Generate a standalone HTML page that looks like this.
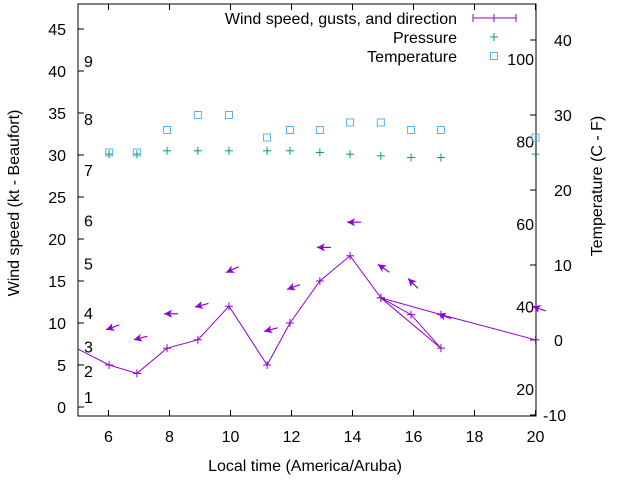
<!DOCTYPE html>
<html><head><meta charset="utf-8"><style>
body{margin:0;background:#fff}
svg{display:block;font-family:"Liberation Sans",sans-serif}
</style></head><body>
<svg id="c" width="640" height="480" viewBox="0 0 640 480"></svg>
<script>
const hours=[6.02,6.93,7.92,8.93,9.95,11.2,11.95,12.93,13.92,14.93,15.92,16.9,14.93,16.9,20.0];
const wind=[5,4,7,8,12,5,10,15,18,13,11,7,13,11,8];
const gustHours=[6.02,6.93,7.92,8.93,9.95,11.2,11.95,12.93,13.92,14.93,15.92,16.9,20.0];
const gusts=[9.2,8,11.1,11.9,16,9,14,19,22,17,15.3,11.1,12];
const dirs=[70,75,90,75,65,75,70,90,90,125,135,110,110];
const presHours=[6.02,6.93,7.92,8.93,9.95,11.2,11.95,12.93,13.92,14.93,15.92,16.9,20.0];
const pressure=[30.1,30.1,30.5,30.5,30.5,30.5,30.5,30.3,30.1,29.9,29.7,29.7,30.1];
const temps=[25,25,28,30,30,27,28,28,29,29,28,28,27];
const xTicks=[6,8,10,12,14,16,18,20];
const yTicks=[0,5,10,15,20,25,30,35,40,45];
const y2Ticks=[-10,0,10,20,30,40];
const beaufort=[["1",1.2],["2",4.3],["3",7.2],["4",11.2],["5",17.1],["6",22.2],["7",28.2],["8",34.3],["9",41.2]];
const fahr=[["20",-6.5],["40",4.5],["60",15.5],["80",26.5],["100",37.5]];
const L=78,R=536,T=4,B=416;
const X=h=>L+(h-5)*30.5;
const Y=v=>407-v*8.4;
const Y2=v=>340-v*7.5;
const FS=16;
const svg=document.getElementById('c');
const NS='http://www.w3.org/2000/svg';
function mk(t,a,p){const e=document.createElementNS(NS,t);for(const k in a)e.setAttribute(k,a[k]);(p||svg).appendChild(e);return e;}
let e=mk('rect',{x:L,y:T,width:R-L,height:B-T,fill:'none',stroke:'#000','stroke-width':1});


xTicks.forEach(t=>{mk('line',{x1:X(t),x2:X(t),y1:B,y2:B-6,stroke:'#000'});mk('line',{x1:X(t),x2:X(t),y1:T,y2:T+6,stroke:'#000'});
 const tx=mk('text',{x:X(t),y:B+26,'font-size':FS,'text-anchor':'middle'});tx.textContent=t;
 
 });
yTicks.forEach(t=>{mk('line',{x1:L,x2:L+6,y1:Y(t),y2:Y(t),stroke:'#000'});
 const tx=mk('text',{x:L-12,y:Y(t)+6,'font-size':FS,'text-anchor':'end'});tx.textContent=t;
 
 });
y2Ticks.forEach(t=>{mk('line',{x1:R,x2:R-6,y1:Y2(t),y2:Y2(t),stroke:'#000'});
 const tx=mk('text',{x:R+(t<0?7:18),y:Y2(t)+6,'font-size':FS});tx.textContent=t;
 
 });
beaufort.forEach(b=>{const tx=mk('text',{x:84,y:Y(b[1])+6,'font-size':FS});tx.textContent=b[0];
 
 });
fahr.forEach(b=>{const tx=mk('text',{x:534,y:Y2(b[1])+6,'font-size':FS,'text-anchor':'end'});tx.textContent=b[0];
 
 });
let t1=mk('text',{x:305,y:471,'font-size':FS,'text-anchor':'middle'});t1.textContent='Local time (America/Aruba)';


let t2=mk('text',{x:0,y:0,'font-size':FS,'text-anchor':'middle',transform:'translate(19,203) rotate(-90)'});t2.textContent='Wind speed (kt - Beaufort)';


let t3=mk('text',{x:0,y:0,'font-size':FS,'text-anchor':'middle',transform:'translate(602,186) rotate(-90)'});t3.textContent='Temperature (C - F)';


const P='#9400d3',G='#009e73',C='#56b4e9';
function plus(x,y,c,n){const g=mk('g',{stroke:c,'stroke-width':1});mk('line',{x1:x-4,x2:x+4,y1:y,y2:y},g);mk('line',{x1:x,x2:x,y1:y-4,y2:y+4},g);
 
 }
let d='M'+L+' '+Y(6.9);
hours.forEach((h,i)=>d+=' L'+X(h)+' '+Y(wind[i]));
let pl=mk('path',{d:d,fill:'none',stroke:P,'stroke-width':1});


hours.forEach((h,i)=>plus(X(h),Y(wind[i]),P,'wind-point'));
gustHours.forEach((h,i)=>{const x=X(h)-3,y=Y(gusts[i]),a=dirs[i]*Math.PI/180;const ux=Math.sin(a),uy=-Math.cos(a);
 const g=mk('g',{});
 
 
 mk('line',{x1:x,y1:y,x2:x+ux*14,y2:y+uy*14,stroke:P,'stroke-width':1.2},g);
 const px=-uy,py=ux;
 mk('polygon',{points:`${x},${y} ${x+ux*8+px*4},${y+uy*8+py*4} ${x+ux*6},${y+uy*6} ${x+ux*8-px*4},${y+uy*8-py*4}`,fill:P},g);});
presHours.forEach((h,i)=>plus(X(h),Y(pressure[i]),G,'pressure-point'));
presHours.forEach((h,i)=>{const r=mk('rect',{x:X(h)-3.5,y:Y2(temps[i])-3.5,width:7,height:7,fill:'none',stroke:C,'stroke-width':1});
 
 });
const leg=[['Wind speed, gusts, and direction',18],['Pressure',37],['Temperature',56]];
leg.forEach(l=>{const tx=mk('text',{x:457,y:l[1]+6,'font-size':FS,'text-anchor':'end'});tx.textContent=l[0];
 
 });
mk('line',{x1:473,x2:516,y1:18,y2:18,stroke:P});mk('line',{x1:473,x2:473,y1:14,y2:22,stroke:P});mk('line',{x1:516,x2:516,y1:14,y2:22,stroke:P});
plus(494,18,P,'legend-wind-sample');
plus(494,37,G,'legend-pressure-sample');
let lr=mk('rect',{x:490.5,y:52.5,width:7,height:7,fill:'none',stroke:C});


</script>
</body></html>
